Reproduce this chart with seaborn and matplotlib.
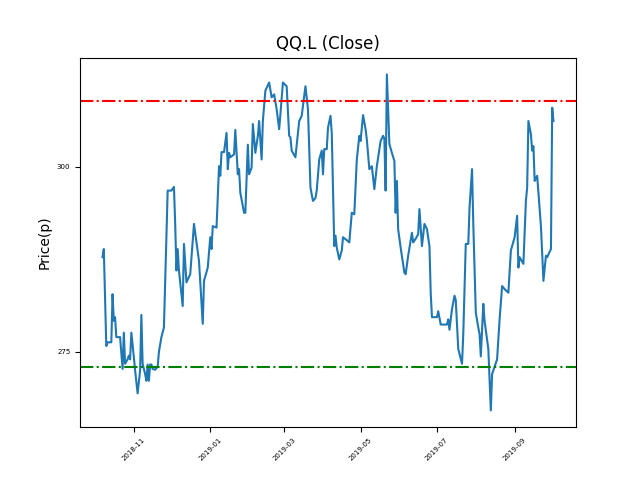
import pandas as pd
import numpy as np
import matplotlib
matplotlib.use('Agg')
import matplotlib.pyplot as plt
import matplotlib.dates as mdates
from matplotlib.ticker import MultipleLocator
import seaborn as sns

ticker = 'QQ.L'

# Close prices
dates = [
    '2018-10-07', '2018-10-08', '2018-10-10', '2018-10-11', '2018-10-14', '2018-10-15',
    '2018-10-16', '2018-10-17', '2018-10-18', '2018-10-21', '2018-10-23', '2018-10-24',
    '2018-10-25', '2018-10-27', '2018-10-28', '2018-10-29', '2018-10-30', '2018-11-01',
    '2018-11-02', '2018-11-04', '2018-11-06', '2018-11-07', '2018-11-08', '2018-11-10',
    '2018-11-11', '2018-11-12', '2018-11-13', '2018-11-14', '2018-11-15', '2018-11-16',
    '2018-11-18', '2018-11-20', '2018-11-21', '2018-11-23', '2018-11-25', '2018-11-26',
    '2018-11-28', '2018-12-01', '2018-12-03', '2018-12-04', '2018-12-05', '2018-12-06',
    '2018-12-07', '2018-12-10', '2018-12-11', '2018-12-13', '2018-12-16', '2018-12-19',
    '2018-12-23', '2018-12-26', '2018-12-27', '2018-12-30', '2019-01-01', '2019-01-02',
    '2019-01-03', '2019-01-06', '2019-01-08', '2019-01-09', '2019-01-10', '2019-01-12',
    '2019-01-14', '2019-01-15', '2019-01-16', '2019-01-17', '2019-01-20', '2019-01-21',
    '2019-01-23', '2019-01-24', '2019-01-25', '2019-01-28', '2019-01-29', '2019-01-31',
    '2019-02-01', '2019-02-03', '2019-02-04', '2019-02-06', '2019-02-08', '2019-02-09',
    '2019-02-11', '2019-02-12', '2019-02-14', '2019-02-17', '2019-02-19', '2019-02-21',
    '2019-02-23', '2019-02-25', '2019-02-26', '2019-02-28', '2019-03-03', '2019-03-05',
    '2019-03-06', '2019-03-07', '2019-03-10', '2019-03-13', '2019-03-15', '2019-03-18',
    '2019-03-20', '2019-03-22', '2019-03-24', '2019-03-26', '2019-03-27', '2019-03-29',
    '2019-03-31', '2019-04-01', '2019-04-02', '2019-04-04', '2019-04-05', '2019-04-07',
    '2019-04-08', '2019-04-10', '2019-04-11', '2019-04-12', '2019-04-14', '2019-04-16',
    '2019-04-17', '2019-04-20', '2019-04-22', '2019-04-24', '2019-04-26', '2019-04-28',
    '2019-04-30', '2019-05-01', '2019-05-03', '2019-05-05', '2019-05-06', '2019-05-08',
    '2019-05-10', '2019-05-12', '2019-05-14', '2019-05-17', '2019-05-19', '2019-05-20',
    '2019-05-21', '2019-05-22', '2019-05-24', '2019-05-26', '2019-05-28', '2019-05-29',
    '2019-05-30', '2019-05-31', '2019-06-02', '2019-06-05', '2019-06-06', '2019-06-08',
    '2019-06-11', '2019-06-12', '2019-06-14', '2019-06-16', '2019-06-17', '2019-06-19',
    '2019-06-21', '2019-06-23', '2019-06-25', '2019-06-26', '2019-06-27', '2019-07-01',
    '2019-07-02', '2019-07-04', '2019-07-09', '2019-07-10', '2019-07-11', '2019-07-13',
    '2019-07-15', '2019-07-16', '2019-07-18', '2019-07-21', '2019-07-22', '2019-07-24',
    '2019-07-26', '2019-07-27', '2019-07-29', '2019-07-30', '2019-08-01', '2019-08-03',
    '2019-08-04', '2019-08-05', '2019-08-07', '2019-08-08', '2019-08-11', '2019-08-13',
    '2019-08-14', '2019-08-18', '2019-08-20', '2019-08-22', '2019-08-24', '2019-08-27',
    '2019-08-29', '2019-09-01', '2019-09-03', '2019-09-04', '2019-09-05', '2019-09-08',
    '2019-09-10', '2019-09-11', '2019-09-12', '2019-09-14', '2019-09-15', '2019-09-16',
    '2019-09-17', '2019-09-19', '2019-09-22', '2019-09-24', '2019-09-26', '2019-09-27',
    '2019-09-30', '2019-10-01', '2019-10-02',
]
close = [
    287.8, 288.9, 275.8, 276.3, 276.3, 282.8,
    279.2, 279.7, 277.0, 277.0, 272.7, 277.6,
    273.4, 274.0, 274.5, 274.0, 277.6, 274.3,
    272.5, 269.4, 272.5, 280.0, 273.4, 272.0,
    271.1, 273.3, 271.1, 273.3, 273.3, 272.7,
    272.6, 273.0, 275.0, 277.0, 278.3, 284.6,
    296.8, 296.8, 297.3, 292.3, 286.0, 288.9,
    286.0, 281.2, 289.6, 284.4, 285.5, 292.3,
    287.3, 278.8, 284.6, 286.4, 290.5, 288.9,
    292.0, 291.8, 300.1, 298.8, 302.0, 302.0,
    304.6, 299.7, 301.9, 301.3, 301.7, 305.0,
    299.0, 299.7, 296.5, 293.8, 293.8, 303.0,
    299.0, 299.9, 305.8, 301.9, 304.2, 306.2,
    301.0, 306.2, 310.3, 311.4, 309.4, 309.8,
    307.8, 305.1, 307.1, 311.4, 310.9, 304.2,
    304.0, 302.2, 301.3, 306.2, 306.9, 310.9,
    307.8, 297.2, 295.4, 295.8, 296.8, 301.0,
    302.2, 299.0, 302.4, 302.4, 305.3, 306.9,
    304.6, 289.3, 290.7, 289.1, 287.5, 288.7,
    290.5, 290.1, 289.8, 293.8, 293.6, 301.0,
    304.2, 303.5, 307.0, 305.1, 303.7, 299.7,
    300.1, 297.0, 300.1, 303.5, 304.2, 303.8,
    296.8, 312.5, 303.1, 301.9, 300.8, 293.8,
    298.1, 291.6, 289.1, 285.7, 285.5, 288.0,
    291.1, 289.8, 290.3, 290.9, 294.3, 289.3,
    292.3, 291.6, 289.3, 283.0, 279.7, 279.7,
    280.5, 278.7, 278.7, 279.4, 278.0, 280.8,
    282.6, 282.0, 275.4, 273.4, 277.4, 289.6,
    289.6, 294.5, 299.7, 292.3, 280.3, 278.3,
    277.4, 274.4, 281.5, 279.2, 275.4, 267.1,
    272.0, 274.0, 279.4, 283.9, 283.5, 283.0,
    288.7, 290.5, 293.4, 286.4, 287.8, 286.9,
    295.4, 297.2, 306.2, 304.4, 302.2, 302.8,
    298.1, 298.8, 292.0, 284.6, 288.0, 287.8,
    288.9, 308.0, 306.2,
]

resistance = 308.9
support = 273.0

df = pd.DataFrame({'Date': pd.to_datetime(dates), 'Close': close})

fig, ax = plt.subplots(figsize=(6.4, 4.8), dpi=100)
sns.lineplot(data=df, x='Date', y='Close', ax=ax, color='#1f77b4', linewidth=1.5)
ax.axhline(resistance, color='red', linestyle='-.')
ax.axhline(support, color='green', linestyle='-.')

ax.set_title(f'{ticker} (Close)')
ax.set_xlabel('')
ax.set_ylabel('Price(p)')
ax.xaxis.set_major_locator(mdates.MonthLocator(bymonth=[1, 3, 5, 7, 9, 11]))
ax.xaxis.set_major_formatter(mdates.DateFormatter('%Y-%m'))
ax.yaxis.set_major_locator(MultipleLocator(25))
plt.setp(ax.get_xticklabels(), rotation=45, fontsize=5)
plt.setp(ax.get_yticklabels(), fontsize=5)

plt.savefig('out.png', dpi=100)
